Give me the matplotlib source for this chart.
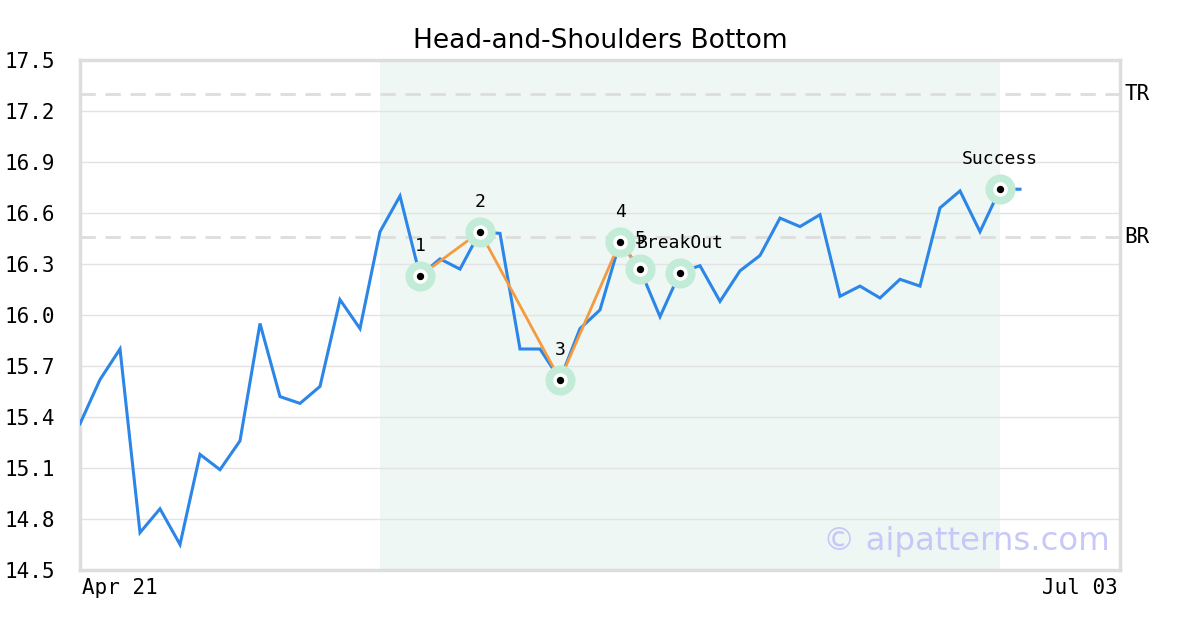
import matplotlib
matplotlib.use("Agg")
import matplotlib.pyplot as plt

# ---- data ----
prices = [15.36, 15.62, 15.80, 14.72, 14.86, 14.65, 15.18, 15.09, 15.26, 15.95,
          15.52, 15.48, 15.58, 16.09, 15.92, 16.49, 16.70, 16.23, 16.33, 16.27,
          16.49, 16.48, 15.80, 15.80, 15.62, 15.92, 16.03, 16.43, 16.27, 15.99,
          16.25, 16.29, 16.08, 16.26, 16.35, 16.57, 16.52, 16.59, 16.11, 16.17,
          16.10, 16.21, 16.17, 16.63, 16.73, 16.49, 16.74, 16.74]
pattern_idx = [17, 20, 24, 27, 28]
pattern_labels = ["1", "2", "3", "4", "5"]
breakout_idx = 30
success_idx = 46
shade_range = (15, 46)
tr_level = 17.30
br_level = 16.46
x_labels = ["Apr 21", "Jul 03"]
n_days = 52
y_ticks = [14.5, 14.8, 15.1, 15.4, 15.7, 16.0, 16.3, 16.6, 16.9, 17.2, 17.5]
title = "Head-and-Shoulders Bottom"

mono = "DejaVu Sans Mono"
fig = plt.figure(figsize=(12, 6.3), dpi=100)
ax = fig.add_axes([80/1200, 1-570/630, 1040/1200, 510/630])

x = list(range(len(prices)))
ax.axvspan(shade_range[0], shade_range[1], color="#eef7f4", zorder=0, lw=0)
ax.axhline(tr_level, color="#dddddd", lw=2, ls=(0, (5.5, 3.5)), zorder=1)
ax.axhline(br_level, color="#dddddd", lw=2, ls=(0, (5.5, 3.5)), zorder=1)

ax.plot(x, prices, color="#2b86e8", lw=2.2, zorder=3, solid_joinstyle="miter")

px = pattern_idx
py = [prices[i] for i in px]
ax.plot(px, py, color="#f59a3e", lw=2.0, zorder=4)

marks = px + [breakout_idx, success_idx]
my = [prices[i] for i in marks]
ax.scatter(marks, my, s=470, color="#c2ecd8", zorder=5, lw=0)
ax.scatter(marks, my, s=110, color="white", zorder=6, lw=0)
ax.scatter(marks, my, s=28, color="black", zorder=7, lw=0)

off = 21.6
for i, lab in zip(px, pattern_labels):
    ax.annotate(lab, (i, prices[i]), xytext=(0, off), textcoords="offset points",
                ha="center", va="center", fontsize=13, family=mono, zorder=8)
ax.annotate("BreakOut", (breakout_idx, prices[breakout_idx]), xytext=(0, off),
            textcoords="offset points", ha="center", va="center", fontsize=13,
            family=mono, zorder=8)
ax.annotate("Success", (success_idx, prices[success_idx]), xytext=(0, off),
            textcoords="offset points", ha="center", va="center", fontsize=13,
            family=mono, zorder=8)

ax.set_xlim(0, n_days)
ax.set_ylim(y_ticks[0], y_ticks[-1])
ax.set_yticks(y_ticks)
ax.set_yticklabels([f"{v:.1f}" for v in y_ticks], family=mono, fontsize=15)
ax.set_xticks([])
ax.grid(axis="y", color="#e3e3e3", lw=1, zorder=0)
ax.set_axisbelow(True)
ax.tick_params(axis="y", length=0, pad=18)
for s in ax.spines.values():
    s.set_color("#dddddd")
    s.set_linewidth(2.5)

ax.text(0.002, -0.015, x_labels[0], transform=ax.transAxes, ha="left", va="top",
        family=mono, fontsize=15)
ax.text(0.998, -0.015, x_labels[1], transform=ax.transAxes, ha="right", va="top",
        family=mono, fontsize=15)

ax.text(1.004, tr_level, "TR", transform=ax.get_yaxis_transform(), ha="left",
        va="center", family=mono, fontsize=15)
ax.text(1.004, br_level, "BR", transform=ax.get_yaxis_transform(), ha="left",
        va="center", family=mono, fontsize=15)

ax.text(0.99, 0.055, "© aipatterns.com", transform=ax.transAxes, ha="right",
        va="center", fontsize=23.3, color="#c8c8f8", zorder=9)

ax.set_title(title, fontsize=19, pad=9)

fig.savefig("out.png", dpi=100)
